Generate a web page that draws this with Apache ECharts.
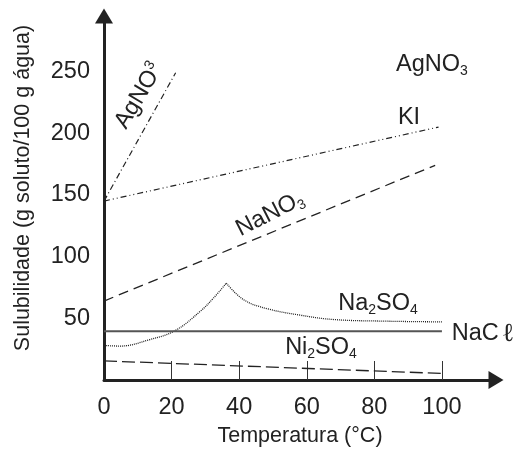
<!DOCTYPE html>
<html>
<head>
<meta charset="utf-8">
<script src="https://cdn.jsdelivr.net/npm/echarts@6/dist/echarts.min.js"></script>
<style>
  html, body { margin: 0; padding: 0; background: #fff; }
  #main { width: 515px; height: 452px; }
</style>
</head>
<body>
<div id="main"></div>
<script>
// 刻度
var xTicks = [0, 20, 40, 60, 80, 100];
var xTickMarks = [20, 40, 60, 80, 100];
var yTicks = [50, 100, 150, 200, 250];

// 溶解度曲线 [温度, 溶解度]
var agno3 = [[0, 145], [21.2, 249]];
var ki = [[0, 145], [99, 205]];
var nano3 = [[0, 64], [98, 174]];
// Na2SO4 分两段画，保留尖峰
var na2so4Rise = [[0, 28], [4.7, 27.5], [13.6, 32.8], [21.1, 40.1], [28.5, 55.7], [32.4, 66.4], [36.2, 78.5]];
var na2so4Fall = [[36.2, 78.5], [41.3, 65.1], [48.3, 57.8], [58.2, 52.5], [68, 49], [82.9, 47.7], [100, 47.1]];
var nacl = [[0, 39.6], [100, 39.6]];
var ni2so4 = [[0, 15.5], [100, 5.3]];

var FONT = 'Liberation Sans';
var INK = '#222';

var myChart = echarts.init(document.getElementById('main'));

// 折线
function curve(name, data, dash, color, width, smooth) {
  return {
    name: name,
    type: 'line',
    data: data,
    symbol: 'none',
    smooth: smooth || false,
    silent: true,
    animation: false,
    lineStyle: { color: color, width: width, type: dash }
  };
}

// 带下标的文字
var rich = {
  a: { fontSize: 23.5, fontFamily: FONT, fill: INK, lineHeight: 27 },
  b: { fontSize: 14, fontFamily: FONT, fill: INK, lineHeight: 27, verticalAlign: 'bottom' },
  t: { fontSize: 14, fontFamily: FONT, fill: INK, lineHeight: 27, verticalAlign: 'top' },
  l: { fontSize: 26, fontFamily: 'Liberation Serif', fill: INK, lineHeight: 27, padding: [0, 0, 0, 3] }
};

function label(text, x, y, deg) {
  return {
    type: 'text',
    x: x,
    y: y,
    rotation: (deg || 0) * Math.PI / 180,
    silent: true,
    style: { text: text, rich: rich, align: 'center', verticalAlign: 'middle' }
  };
}

var option = {
  animation: false,
  grid: { left: 104, right: 19, top: 16, bottom: 70 },
  xAxis: {
    type: 'value',
    min: 0,
    max: 116,
    name: 'Temperatura (°C)',
    nameLocation: 'middle',
    nameGap: 45,
    nameTextStyle: { fontSize: 21.5, fontFamily: FONT, color: INK },
    axisLine: {
      lineStyle: { color: INK, width: 3 },
      symbol: ['none', 'triangle'],
      symbolSize: [18, 15]
    },
    axisTick: {
      show: true,
      inside: true,
      length: 19,
      customValues: xTickMarks,
      lineStyle: { color: '#333', width: 1 }
    },
    axisLabel: { customValues: xTicks, fontSize: 23.5, fontFamily: FONT, color: INK, margin: 16 },
    splitLine: { show: false }
  },
  yAxis: {
    type: 'value',
    min: 0,
    max: 295,
    name: 'Sulubilidade (g soluto/100 g água)',
    nameLocation: 'middle',
    nameGap: 70,
    nameTextStyle: { fontSize: 21.5, fontFamily: FONT, color: INK, padding: [0, 0, 0, 20] },
    axisLine: {
      show: true,
      lineStyle: { color: INK, width: 3 },
      symbol: ['none', 'triangle'],
      symbolSize: [18, 15]
    },
    axisTick: { show: false },
    axisLabel: { customValues: yTicks, fontSize: 23.5, fontFamily: FONT, color: INK, margin: 14 },
    splitLine: { show: false }
  },
  series: [
    curve('AgNO3', agno3, [6, 3, 1, 3], INK, 1.2),
    curve('KI', ki, [6, 3, 1, 3, 1, 3], INK, 1.2),
    curve('NaNO3', nano3, [10, 6], INK, 1.3),
    curve('Na2SO4', na2so4Rise, [1, 1], INK, 1.3, 0.4),
    curve('Na2SO4', na2so4Fall, [1, 1], INK, 1.3, 0.4),
    curve('NaCl', nacl, 'solid', '#555', 2),
    curve('Ni2SO4', ni2so4, [13, 5], INK, 1.3)
  ],
  graphic: [
    label('{a|AgNO}{b|3}', 432, 65),
    label('{a|KI}', 409, 118),
    label('{a|NaNO}{b|3}', 270, 214, 27),
    label('{a|AgNO}{t|3}', 139, 96, 59),
    label('{a|Na}{b|2}{a|SO}{b|4}', 378, 304),
    label('{a|Ni}{b|2}{a|SO}{b|4}', 321, 348),
    label('{a|NaC}{l|ℓ}', 483, 334)
  ]
};

myChart.setOption(option);
</script>
</body>
</html>
